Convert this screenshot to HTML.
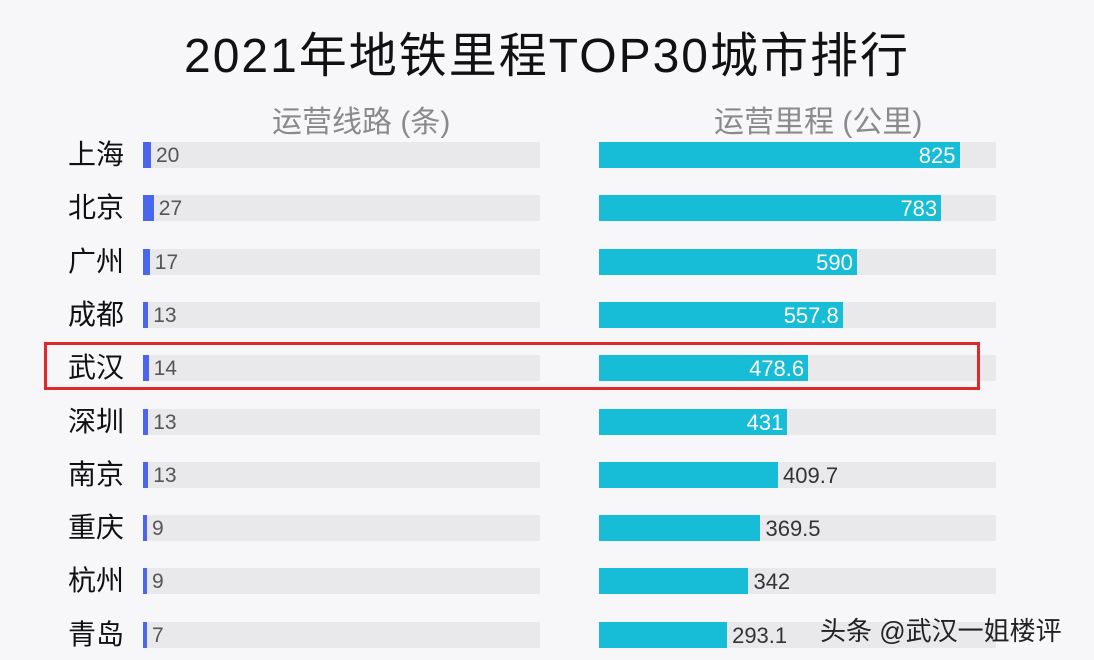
<!DOCTYPE html>
<html><head><meta charset="utf-8"><style>
body{margin:0;width:1094px;height:660px;overflow:hidden;background:#f7f7f9;font-family:"Liberation Sans","Noto Sans CJK SC",sans-serif;position:relative}
.a{position:absolute;white-space:nowrap}
.title{left:0;width:1094px;text-align:center;top:16px;font-size:48px;letter-spacing:2px;color:#111}
.hd{font-size:30px;color:#8a8a8a;top:97px}
.city{left:68px;font-size:28px;color:#111;line-height:30px}
.tr{background:#e9e9ec;height:26px}
.bl{background:#4a66ee;height:26px}
.cy{background:#17bcd6;height:26px}
.n{font-size:21px;line-height:27px}
.m{font-size:22px}
</style></head><body>
<div class="a title">2021年地铁里程TOP30城市排行</div>
<div class="a hd" style="left:272px">运营线路 (条)</div>
<div class="a hd" style="left:714px">运营里程 (公里)</div>
<div id="rows"></div>
<div class="a" style="left:44px;top:342px;width:930px;height:42px;border:3px solid #e0282a"></div>
<div class="a" style="left:820px;top:611px;font-size:26px;color:#222">头条 @武汉一姐楼评</div>
<script>
var d=[["上海",20,825],["北京",27,783],["广州",17,590],["成都",13,557.8],["武汉",14,478.6],["深圳",13,431],["南京",13,409.7],["重庆",9,369.5],["杭州",9,342],["青岛",7,293.1]];
var h="";
d.forEach(function(r,i){
var y=142+i*53.3;
h+='<div class="a city" style="top:'+(y-2)+'px">'+r[0]+'</div>';
h+='<div class="a tr" style="left:143px;top:'+y+'px;width:397px"></div>';
var w=Math.max(4,r[1]*0.4);
h+='<div class="a bl" style="left:143px;top:'+y+'px;width:'+w+'px"></div>';
h+='<div class="a n" style="left:'+(143+w+5)+'px;top:'+y+'px;color:#555">'+r[1]+'</div>';
h+='<div class="a tr" style="left:599px;top:'+y+'px;width:397px"></div>';
var W=r[2]*0.437;
h+='<div class="a cy" style="left:599px;top:'+y+'px;width:'+W+'px"></div>';
if(i<6)h+='<div class="a n m" style="left:599px;width:'+(W-4)+'px;text-align:right;top:'+y+'px;color:#fff">'+r[2]+'</div>';
else h+='<div class="a n m" style="left:'+(599+W+5)+'px;top:'+y+'px;color:#333">'+r[2]+'</div>';
});
document.getElementById("rows").innerHTML=h;
</script>
</body></html>
